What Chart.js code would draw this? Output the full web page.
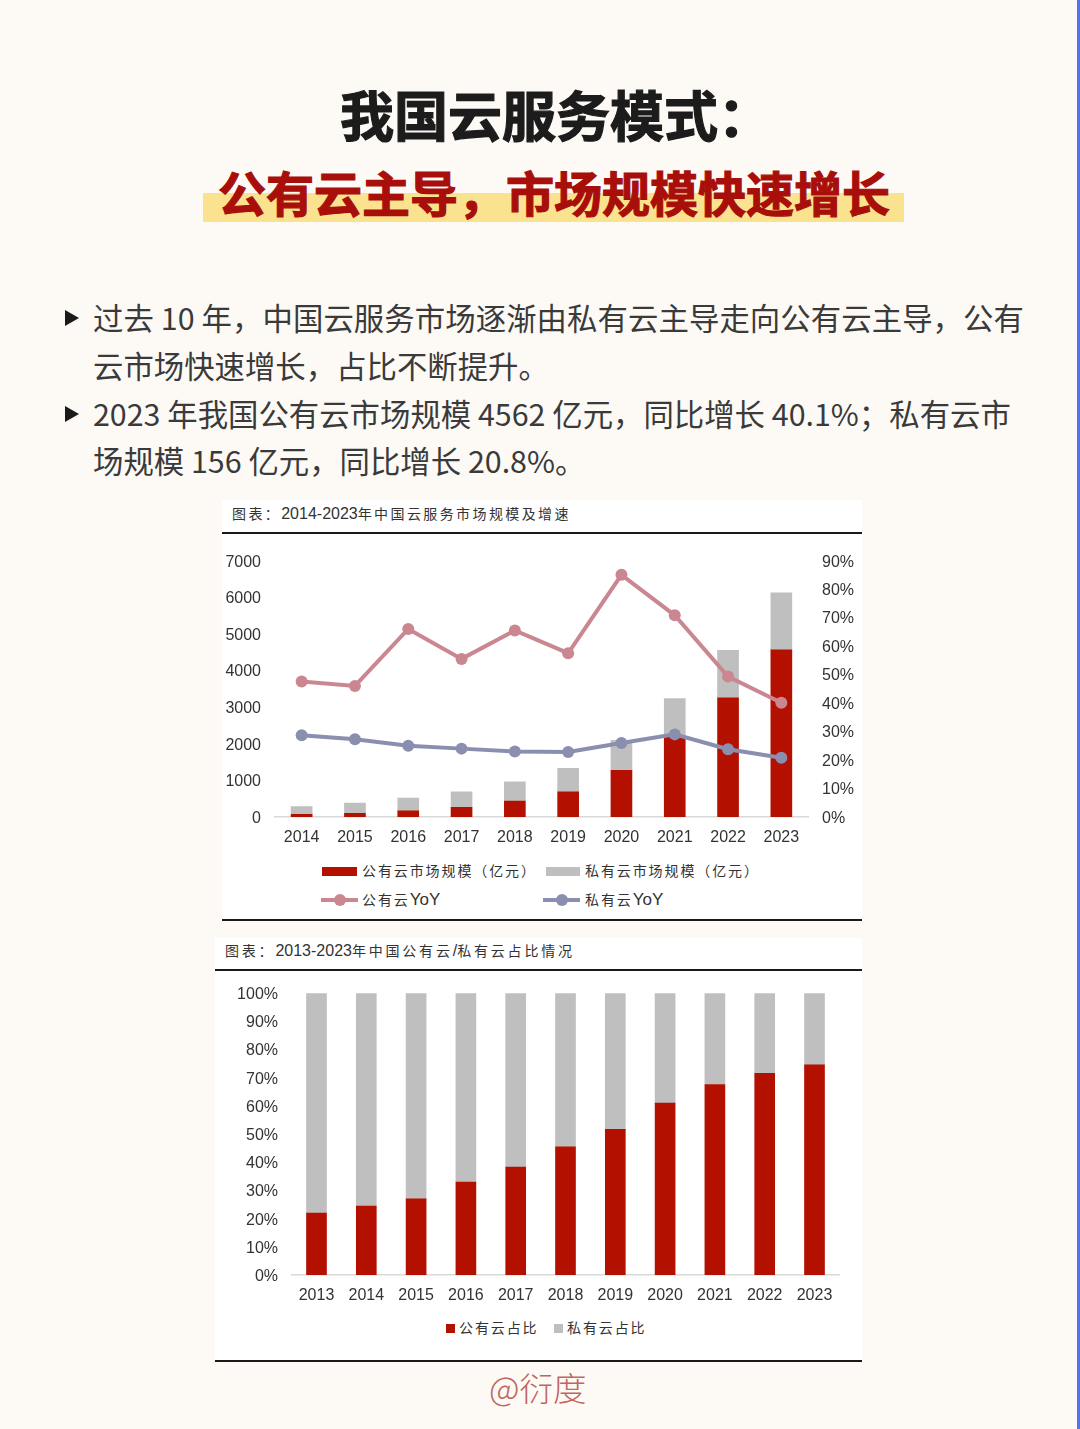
<!DOCTYPE html>
<html lang="zh-CN">
<head>
<meta charset="utf-8">
<title>我国云服务模式</title>
<script src="https://cdn.jsdelivr.net/npm/chart.js@4/dist/chart.umd.min.js"></script>
<style>
    html, body { margin: 0; padding: 0; background: #fdfaf6; }
    #page {
        position: relative; width: 1080px; height: 1429px; overflow: hidden;
        background: #fdfaf6; font-family: "Noto Sans CJK SC", sans-serif;
    }
    #page div, #page span { position: absolute; white-space: nowrap; }
    .edge { left: 1077px; top: 0; width: 3px; height: 1429px; background: #4f76e8; }
    .h1 { left: 340px; top: 77px; font-size: 54px; line-height: 74px; font-weight: 700; color: #1c1c1c; -webkit-text-stroke: 1.2px #1c1c1c; }
    .mark { left: 203px; top: 193px; width: 701px; height: 29px; background: #fbe28e; }
    .h2 { left: 218px; top: 157px; font-size: 48px; line-height: 68px; font-weight: 700; color: #a80f0a; -webkit-text-stroke: 1.2px #a80f0a; }
    .body-line { left: 93px; font-size: 30.4px; line-height: 44px; color: #3a3a3a; font-weight: 400; }
    .tri { left: 65px; width: 0; height: 0; border-left: 14px solid #1a1a1a; border-top: 8px solid transparent; border-bottom: 8px solid transparent; }
    .panel { background: #fff; }
    .rule { height: 2px; background: #1a1a1a; }
    .cap { font-size: 14px; line-height: 20px; color: #333; }
    .cap b { font-family: "Liberation Sans", sans-serif; font-weight: 400; font-size: 16px; letter-spacing: 0; }
    .leg { font-size: 14px; letter-spacing: 1.9px; line-height: 20px; color: #333; }
    .leg b { font-family: "Liberation Sans", sans-serif; font-weight: 400; font-size: 17px; letter-spacing: 0; }
    .sign { left: 489px; top: 1363px; font-size: 33.5px; line-height: 48px; color: #c2655f; font-weight: 300; }
    canvas { position: absolute; }
</style>
</head>
<body>
<div id="page">
    <div class="edge"></div>
    <div class="h1">我国云服务模式：</div>
    <div class="mark"></div>
    <div class="h2">公有云主导，市场规模快速增长</div>

    <div class="tri" style="top:310px"></div>
    <div class="body-line" style="top:295px;letter-spacing:.07px">过去 10 年，中国云服务市场逐渐由私有云主导走向公有云主导，公有</div>
    <div class="body-line" style="top:343px">云市场快速增长，占比不断提升。</div>
    <div class="tri" style="top:406px"></div>
    <div class="body-line" style="top:391px">2023 年我国公有云市场规模 4562 亿元，同比增长 40.1%；私有云市</div>
    <div class="body-line" style="top:438px">场规模 156 亿元，同比增长 20.8%。</div>

    <div class="panel" style="left:222px;top:500px;width:640px;height:421px"></div>
    <div class="cap" style="left:232px;top:503px;letter-spacing:2.4px">图表：<b>2014-2023</b>年中国云服务市场规模及增速</div>
    <div class="rule" style="left:222px;top:532px;width:640px"></div>
    <canvas id="sizeChart" style="left:222px;top:537px;width:640px;height:313px"></canvas>
    <div id="sizeLegend"></div>
    <div class="rule" style="left:222px;top:919px;width:640px"></div>

    <div class="panel" style="left:215px;top:938px;width:647px;height:424px"></div>
    <div class="cap" style="left:225px;top:940px;letter-spacing:2.8px">图表：<b>2013-2023</b>年中国公有云<b>/</b>私有云占比情况</div>
    <div class="rule" style="left:215px;top:969px;width:647px"></div>
    <canvas id="shareChart" style="left:215px;top:970px;width:647px;height:340px"></canvas>
    <div id="shareLegend"></div>
    <div class="rule" style="left:215px;top:1360px;width:647px"></div>

    <div class="sign">@衍度</div>
</div>

<script>
// ==========================
// Data
// ==========================
const sizeYears = ["2014", "2015", "2016", "2017", "2018", "2019", "2020", "2021", "2022", "2023"];
const publicSize = [70, 100, 170, 265, 437, 690, 1277, 2181, 3256, 4562];
const privateSize = [215, 280, 345, 425, 523, 640, 813, 1049, 1294, 1558];
const publicYoY = [47.6, 46, 66, 55.5, 65.5, 57.5, 85, 70.8, 49.3, 40.1];
const privateYoY = [28.7, 27.3, 25, 24, 23, 22.8, 26, 29, 23.8, 20.8];

const shareYears = ["2013", "2014", "2015", "2016", "2017", "2018", "2019", "2020", "2021", "2022", "2023"];
const publicShare = [22, 24.5, 27, 33, 38.3, 45.5, 51.7, 61, 67.6, 71.6, 74.6];
const privateShare = [78, 75.5, 73, 67, 61.7, 54.5, 48.3, 39, 32.4, 28.4, 25.4];

const RED = "#b31000";
const GRAY = "#bfbfbf";
const PINK = "#cb8791";
const SLATE = "#8a8fb0";
const TICK_FONT = { family: "'Liberation Sans', sans-serif", size: 16 };

Chart.defaults.animation = false;
Chart.defaults.responsive = false;

// Fixes an axis to an exact size so the plot lines up with the page
function fixWidth(w) { return scale => { scale.width = w; }; }
function fixHeight(h) { return scale => { scale.height = h; }; }

function sizeCanvas(id, w, h) {
    const c = document.getElementById(id);
    c.width = w; c.height = h;
    return c.getContext("2d");
}

function xAxis(height, pad) {
    return {
        stacked: true,
        grid: { display: false, drawTicks: false },
        border: { color: "#d9d9d9", width: 1.5 },
        ticks: { color: "#333", font: TICK_FONT, padding: pad, maxRotation: 0, autoSkip: false },
        afterFit: fixHeight(height)
    };
}

// ==========================
// Market size + YoY chart
// ==========================
new Chart(sizeCanvas("sizeChart", 640, 313), {
    type: "bar",
    data: {
        labels: sizeYears,
        datasets: [
            { label: "公有云市场规模（亿元）", data: publicSize, backgroundColor: RED, barThickness: 21, stack: "s", order: 2 },
            { label: "私有云市场规模（亿元）", data: privateSize, backgroundColor: GRAY, barThickness: 21, stack: "s", order: 2 },
            { type: "line", label: "公有云YoY", data: publicYoY, yAxisID: "y1", borderColor: PINK, backgroundColor: PINK, borderWidth: 4, pointRadius: 6, pointBackgroundColor: PINK, pointBorderWidth: 0, tension: 0, order: 1 },
            { type: "line", label: "私有云YoY", data: privateYoY, yAxisID: "y1", borderColor: SLATE, backgroundColor: SLATE, borderWidth: 4, pointRadius: 6, pointBackgroundColor: SLATE, pointBorderWidth: 0, tension: 0, order: 0 }
        ]
    },
    options: {
        plugins: { legend: { display: false }, tooltip: { enabled: false } },
        scales: {
            x: xAxis(33, 11),
            y: {
                stacked: true, min: 0, max: 7000,
                grid: { display: false, drawTicks: false },
                border: { display: false },
                ticks: { stepSize: 1000, color: "#333", font: TICK_FONT, padding: 14, labelOffset: 1.5, callback: v => String(v) },
                afterFit: fixWidth(53)
            },
            y1: {
                position: "right", min: 0, max: 90,
                grid: { display: false, drawTicks: false },
                border: { display: false },
                ticks: { stepSize: 10, color: "#333", font: TICK_FONT, padding: 14, labelOffset: 1.5, callback: v => v + "%" },
                afterFit: fixWidth(54)
            }
        }
    }
});

// ==========================
// Public / private share chart
// ==========================
new Chart(sizeCanvas("shareChart", 647, 340), {
    type: "bar",
    data: {
        labels: shareYears,
        datasets: [
            { label: "公有云占比", data: publicShare, backgroundColor: RED, barThickness: 20 },
            { label: "私有云占比", data: privateShare, backgroundColor: GRAY, barThickness: 20 }
        ]
    },
    options: {
        layout: { padding: { right: 22.6 } },
        plugins: { legend: { display: false }, tooltip: { enabled: false } },
        scales: {
            x: xAxis(35, 11),
            y: {
                stacked: true, min: 0, max: 100,
                grid: { display: false, drawTicks: false },
                border: { display: false },
                ticks: { stepSize: 10, color: "#333", font: TICK_FONT, padding: 13.6, labelOffset: 1.5, callback: v => v + "%" },
                afterFit: fixWidth(76.6)
            }
        }
    }
});

// ==========================
// Legends
// ==========================
function addSwatch(host, left, top, width, height, color, round) {
    const el = document.createElement("div");
    el.style.cssText = `left:${left}px;top:${top}px;width:${width}px;height:${height}px;background:${color};` + (round ? "border-radius:50%;" : "");
    host.appendChild(el);
}

function addLabel(host, left, centerY, text) {
    const el = document.createElement("div");
    el.className = "leg";
    el.style.left = left + "px";
    el.style.top = (centerY - 11) + "px";
    el.innerHTML = text.replace("YoY", "<b>YoY</b>");
    host.appendChild(el);
}

const sizeLegend = document.getElementById("sizeLegend");
addSwatch(sizeLegend, 322, 867, 35, 9, RED);
addLabel(sizeLegend, 362, 871, "公有云市场规模（亿元）");
addSwatch(sizeLegend, 546, 867, 34, 9, GRAY);
addLabel(sizeLegend, 585, 871, "私有云市场规模（亿元）");
addSwatch(sizeLegend, 321, 898, 37, 4, PINK);
addSwatch(sizeLegend, 334, 894, 12, 12, PINK, true);
addLabel(sizeLegend, 362, 900, "公有云YoY");
addSwatch(sizeLegend, 543, 898, 37, 4, SLATE);
addSwatch(sizeLegend, 556, 894, 12, 12, SLATE, true);
addLabel(sizeLegend, 585, 900, "私有云YoY");

const shareLegend = document.getElementById("shareLegend");
addSwatch(shareLegend, 446, 1324, 9, 9, RED);
addLabel(shareLegend, 459, 1328, "公有云占比");
addSwatch(shareLegend, 554, 1324, 9, 9, GRAY);
addLabel(shareLegend, 567, 1328, "私有云占比");
</script>
</body>
</html>
